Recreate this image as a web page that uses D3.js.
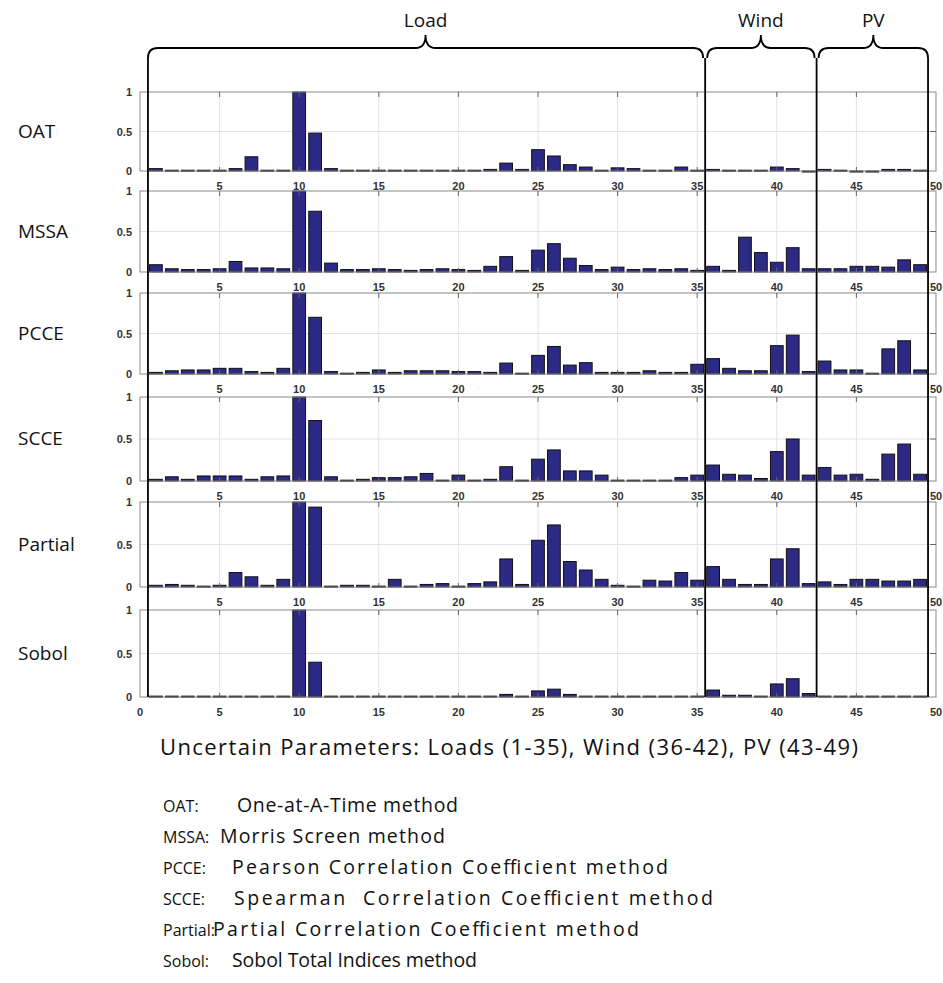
<!DOCTYPE html>
<html>
<head>
<meta charset="utf-8">
<script src="https://cdn.jsdelivr.net/npm/d3@7"></script>
<style>
  body { margin: 0; background: #fff; }
  svg { display: block; }
</style>
</head>
<body>
<svg id="chart" width="943" height="983"></svg>
<script>
// parameter index 1..49
const params = d3.range(1, 50);
const methods = ["OAT", "MSSA", "PCCE", "SCCE", "Partial", "Sobol"];

const oat = [0.03,0.01,0.01,0.01,0.01,0.03,0.18,0.01,0.01,1.00,
             0.48,0.03,0.01,0.01,0.01,0.01,0.01,0.01,0.01,0.01,
             0.01,0.02,0.10,0.02,0.27,0.19,0.08,0.05,0.01,0.04,
             0.03,0.01,0.01,0.05,0.01,0.02,0.01,0.01,0.01,0.05,
             0.03,0.00,0.02,0.01,0.00,0.00,0.02,0.02,0.01];
const mssa = [0.09,0.04,0.03,0.03,0.04,0.13,0.05,0.05,0.04,1.00,
              0.75,0.11,0.03,0.03,0.04,0.03,0.02,0.03,0.04,0.03,
              0.02,0.07,0.19,0.02,0.27,0.35,0.17,0.08,0.03,0.06,
              0.03,0.04,0.03,0.04,0.02,0.07,0.02,0.43,0.24,0.12,
              0.30,0.04,0.04,0.04,0.07,0.07,0.06,0.15,0.09];
const pcce = [0.02,0.04,0.05,0.05,0.07,0.07,0.03,0.02,0.07,1.00,
              0.70,0.03,0.01,0.02,0.05,0.02,0.04,0.04,0.04,0.03,
              0.03,0.02,0.135,0.01,0.23,0.34,0.11,0.14,0.02,0.02,
              0.02,0.04,0.02,0.02,0.12,0.19,0.07,0.04,0.04,0.35,
              0.48,0.03,0.16,0.05,0.05,0.01,0.31,0.41,0.05];
const scce = [0.02,0.05,0.02,0.06,0.06,0.06,0.02,0.05,0.06,1.00,
              0.72,0.05,0.01,0.02,0.04,0.04,0.05,0.09,0.01,0.07,
              0.01,0.02,0.17,0.01,0.26,0.37,0.12,0.12,0.07,0.01,
              0.01,0.01,0.01,0.04,0.07,0.19,0.08,0.07,0.03,0.35,
              0.50,0.07,0.16,0.07,0.08,0.02,0.32,0.44,0.08];
const partial = [0.02,0.03,0.02,0.01,0.02,0.17,0.12,0.02,0.09,1.00,
                 0.94,0.01,0.02,0.02,0.01,0.09,0.01,0.03,0.04,0.01,
                 0.04,0.06,0.33,0.03,0.55,0.73,0.30,0.20,0.09,0.02,
                 0.01,0.08,0.07,0.17,0.08,0.24,0.09,0.03,0.03,0.33,
                 0.45,0.04,0.06,0.03,0.09,0.09,0.07,0.07,0.09];
const sobol = [0.01,0.01,0.01,0.01,0.01,0.01,0.01,0.01,0.01,1.00,
               0.40,0.01,0.01,0.01,0.01,0.01,0.01,0.01,0.01,0.01,
               0.01,0.01,0.03,0.01,0.07,0.09,0.03,0.01,0.01,0.01,
               0.01,0.01,0.01,0.01,0.01,0.08,0.02,0.02,0.01,0.15,
               0.21,0.04,0.01,0.01,0.01,0.01,0.01,0.01,0.01];
const series = [oat, mssa, pcce, scce, partial, sobol];

const xTicks = d3.range(0, 51, 5);
const yTicks = [0, 0.5, 1];
const yTickLabels = ["0", "0.5", "1"];

const groupNames = ["Load", "Wind", "PV"];
const groupBounds = [[0.5, 35.5], [35.5, 42.5], [42.5, 49.5]];

const caption = "Uncertain Parameters: Loads (1-35), Wind (36-42), PV (43-49)";
const legendKeys = ["OAT:", "MSSA:", "PCCE:", "SCCE:", "Partial:", "Sobol:"];
const legendTexts = ["One-at-A-Time method", "Morris Screen method",
                     "Pearson Correlation Coefficient method",
                     "Spearman  Correlation Coefficient method",
                     "Partial Correlation Coefficient method",
                     "Sobol Total Indices method"];

// layout
const panelTops = [92, 191, 293, 397, 502, 610];
const panelZeros = [171, 272, 374, 481, 587, 697];
const legendTextX = [237, 220, 232, 234, 213, 232];
const legendTextW = [221, 225, 436, 479, 426, 245];
const barColor = "#2d2a86";
const font = "Open Sans, sans-serif";

const svg = d3.select("#chart");
const x = d3.scaleLinear().domain([0, 50]).range([140, 936]);
const barW = x(0.8) - x(0);

methods.forEach((m, k) => {
    const y = d3.scaleLinear().domain([0, 1]).range([panelZeros[k], panelTops[k]]);
    const g = svg.append("g");

    // grid
    g.selectAll("line.vg").data(xTicks.slice(1, -1)).join("line")
        .attr("x1", (d) => x(d)).attr("x2", (d) => x(d))
        .attr("y1", y(0)).attr("y2", y(1))
        .attr("stroke", "#e3e3e3").attr("stroke-width", 1);
    g.append("line")
        .attr("x1", x(0)).attr("x2", x(50))
        .attr("y1", y(0.5)).attr("y2", y(0.5))
        .attr("stroke", "#e3e3e3").attr("stroke-width", 1);

    // bars
    g.selectAll("rect.bar").data(params).join("rect")
        .attr("class", "bar")
        .attr("x", (d) => x(d - 0.4))
        .attr("width", barW)
        .attr("y", (d) => y(series[k][d - 1]))
        .attr("height", (d) => Math.max(1, y(0) - y(series[k][d - 1])))
        .attr("fill", barColor)
        .attr("stroke", "#111")
        .attr("stroke-width", 1);

    // box
    g.append("rect")
        .attr("x", x(0)).attr("y", y(1))
        .attr("width", x(50) - x(0)).attr("height", y(0) - y(1))
        .attr("fill", "none").attr("stroke", "#8a8a8a").attr("stroke-width", 1);

    // tick marks top/bottom and right
    g.selectAll("line.tt").data(xTicks.slice(1, -1)).join("line")
        .attr("x1", (d) => x(d)).attr("x2", (d) => x(d))
        .attr("y1", y(1)).attr("y2", y(1) + 5)
        .attr("stroke", "#666");
    g.selectAll("line.tb").data(xTicks.slice(1, -1)).join("line")
        .attr("x1", (d) => x(d)).attr("x2", (d) => x(d))
        .attr("y1", y(0)).attr("y2", y(0) - 4)
        .attr("stroke", "#666");
    g.append("line")
        .attr("x1", x(50) - 6).attr("x2", x(50))
        .attr("y1", y(0.5)).attr("y2", y(0.5))
        .attr("stroke", "#666");

    // y tick labels
    g.selectAll("text.yt").data(yTicks).join("text")
        .attr("x", x(0) - 8)
        .attr("y", (d) => y(d) + 4)
        .attr("text-anchor", "end")
        .attr("font-family", "Liberation Sans, Arial, sans-serif")
        .attr("font-size", 11).attr("font-weight", "bold")
        .attr("fill", "#333")
        .text((d, i) => yTickLabels[i]);

    // x tick labels
    const shown = k === methods.length - 1 ? xTicks : xTicks.slice(1);
    g.selectAll("text.xt").data(shown).join("text")
        .attr("x", (d) => x(d))
        .attr("y", y(0) + 19)
        .attr("text-anchor", "middle")
        .attr("font-family", "Liberation Sans, Arial, sans-serif")
        .attr("font-size", 11).attr("font-weight", "bold")
        .attr("fill", "#333")
        .text((d) => d);

    // method label
    svg.append("text")
        .attr("x", 18)
        .attr("y", (panelTops[k] + panelZeros[k]) / 2 + 6)
        .attr("font-family", font)
        .attr("font-size", 19)
        .attr("fill", "#111")
        .text(m);
});

// group separators and curly brackets
const bracketY = 48, r = 10, peak = 13;
const bounds = [0.5, 35.5, 42.5, 49.5];
svg.selectAll("line.sep").data(bounds).join("line")
    .attr("x1", (d) => x(d)).attr("x2", (d) => x(d))
    .attr("y1", bracketY + r).attr("y2", panelZeros[5])
    .attr("stroke", "#000").attr("stroke-width", 1.8);

groupNames.forEach((name, i) => {
    const x0 = x(groupBounds[i][0]) + (i > 0 ? 2 : 0);
    const x1 = x(groupBounds[i][1]) - (i < 2 ? 2 : 0);
    const xm = (x0 + x1) / 2;
    const p = d3.path();
    p.moveTo(x0, bracketY + r);
    p.quadraticCurveTo(x0, bracketY, x0 + r, bracketY);
    p.lineTo(xm - r, bracketY);
    p.quadraticCurveTo(xm, bracketY, xm, bracketY - peak);
    p.quadraticCurveTo(xm, bracketY, xm + r, bracketY);
    p.lineTo(x1 - r, bracketY);
    p.quadraticCurveTo(x1, bracketY, x1, bracketY + r);
    svg.append("path").attr("d", p.toString())
        .attr("fill", "none").attr("stroke", "#000").attr("stroke-width", 1.8);
    svg.append("text")
        .attr("x", xm).attr("y", 27)
        .attr("text-anchor", "middle")
        .attr("font-family", font)
        .attr("font-size", 19)
        .attr("fill", "#111")
        .text(name);
});

// caption and legend
svg.append("text")
    .attr("x", 160).attr("y", 755)
    .attr("font-family", font)
    .attr("font-size", 22)
    .attr("fill", "#111")
    .attr("textLength", 698)
    .attr("lengthAdjust", "spacing")
    .text(caption);

legendKeys.forEach((key, i) => {
    const ty = 812 + i * 31;
    svg.append("text")
        .attr("x", 163).attr("y", ty)
        .attr("font-family", font)
        .attr("font-size", 16).attr("fill", "#111")
        .text(key);
    svg.append("text")
        .attr("x", legendTextX[i]).attr("y", ty)
        .attr("font-family", font)
        .attr("font-size", 19.5).attr("fill", "#111")
        .attr("textLength", legendTextW[i])
        .attr("lengthAdjust", "spacing")
        .style("white-space", "pre")
        .text(legendTexts[i]);
});
</script>
</body>
</html>
